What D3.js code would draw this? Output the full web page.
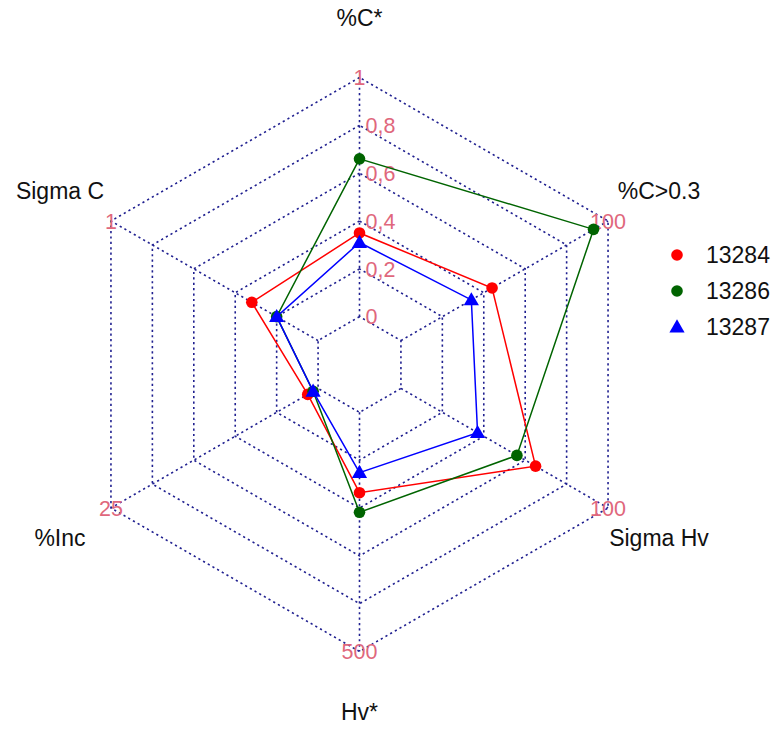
<!DOCTYPE html>
<html>
<head>
<meta charset="utf-8">
<script src="https://cdn.jsdelivr.net/npm/d3@7"></script>
<style>
  html, body { margin: 0; padding: 0; background: #fff; }
  svg { display: block; font-family: "Liberation Sans", Arial, sans-serif; }
</style>
</head>
<body>
<svg id="chart" width="777" height="729"></svg>
<script>
// Axes (counter-clockwise from top, as fmsb radarchart)
const axes = ["%C*", "Sigma C", "%Inc", "Hv*", "Sigma Hv", "%C>0.3"];
const axisMax = [1, 1, 25, 500, 100, 100];
const axisMaxLabels = ["1", "1", "25", "500", "100", "100"];
const centerTickLabels = ["0", "0,2", "0,4", "0,6", "0,8"];

// Series
const seriesNames = ["13284", "13286", "13287"];
const s13284 = [0.35, 0.32, 1.25, 168, 65, 44];
const s13286 = [0.66, 0.20, 0.60, 209, 56, 93];
const s13287 = [0.31, 0.20, 0.60, 126, 37, 34];
const seriesValues = [s13284, s13286, s13287];
const seriesColors = ["#ff0000", "#006400", "#0000ff"];
const seriesShapes = ["circle", "circle", "triangle"];

const svg = d3.select("#chart");
const cx = 359.5, cy = 364.5, R = 287;
const seg = 5;
// fmsb (centerzero = FALSE): value 0 sits on first ring, 1 on outer ring
const rScale = d3.scaleLinear().domain([0, 1]).range([R / (seg + 1), R]);
const angle = i => Math.PI / 2 + i * 2 * Math.PI / axes.length;
const px = (i, r) => cx + r * Math.cos(angle(i));
const py = (i, r) => cy - r * Math.sin(angle(i));

const gridColor = "#202090";
const labCol = "#e0677c";

// Grid rings
const gGrid = svg.append("g");
for (let k = 1; k <= seg + 1; k++) {
  const r = k * R / (seg + 1);
  const pts = axes.map((a, i) => [px(i, r), py(i, r)]);
  gGrid.append("polygon")
    .attr("points", pts.map(p => p.join(",")).join(" "))
    .attr("fill", "none")
    .attr("stroke", gridColor)
    .attr("stroke-width", 1.6)
    .attr("stroke-dasharray", "2.2,3.2");
}
// Spokes
axes.forEach((a, i) => {
  gGrid.append("line")
    .attr("x1", px(i, rScale(0))).attr("y1", py(i, rScale(0)))
    .attr("x2", px(i, rScale(1))).attr("y2", py(i, rScale(1)))
    .attr("stroke", gridColor)
    .attr("stroke-width", 1.6)
    .attr("stroke-dasharray", "2.2,3.2");
});

// Center axis labels
const tickVals = d3.range(0, seg).map(k => k / seg);
svg.append("g").selectAll("text").data(tickVals).join("text")
  .attr("x", cx + 6)
  .attr("y", (d) => cy - rScale(d))
  .attr("dy", "0.36em")
  .attr("fill", labCol)
  .attr("font-size", 21.5)
  .text((d, k) => centerTickLabels[k]);

// Max labels at vertices
svg.append("g").selectAll("text").data(axes).join("text")
  .attr("x", (d, i) => px(i, R))
  .attr("y", (d, i) => py(i, R))
  .attr("dy", "0.36em")
  .attr("text-anchor", "middle")
  .attr("fill", labCol)
  .attr("font-size", 21.5)
  .text((d, i) => axisMaxLabels[i]);

// Axis titles
svg.append("g").selectAll("text").data(axes).join("text")
  .attr("x", (d, i) => px(i, R * 1.205))
  .attr("y", (d, i) => py(i, R * 1.21))
  .attr("dy", "0.36em")
  .attr("text-anchor", "middle")
  .attr("fill", "#111")
  .attr("font-size", 23)
  .text(d => d);

// Series polygons and markers
const triSym = d3.symbol().type(d3.symbolTriangle).size(100);
seriesValues.forEach((vals, s) => {
  const pts = vals.map((v, i) => {
    const r = rScale(v / axisMax[i]);
    return [px(i, r), py(i, r)];
  });
  const g = svg.append("g");
  g.append("polygon")
    .attr("points", pts.map(p => p.join(",")).join(" "))
    .attr("fill", "none")
    .attr("stroke", seriesColors[s])
    .attr("stroke-width", 1.5);
  pts.forEach(p => {
    if (seriesShapes[s] === "circle") {
      g.append("circle").attr("cx", p[0]).attr("cy", p[1]).attr("r", 5.8)
        .attr("fill", seriesColors[s]);
    } else {
      g.append("path").attr("d", triSym)
        .attr("transform", `translate(${p[0]},${p[1] + 1})`)
        .attr("fill", seriesColors[s]);
    }
  });
});

// Legend
const leg = svg.append("g");
seriesNames.forEach((name, s) => {
  const y = 255 + s * 36;
  if (seriesShapes[s] === "circle") {
    leg.append("circle").attr("cx", 677).attr("cy", y).attr("r", 5.8).attr("fill", seriesColors[s]);
  } else {
    leg.append("path").attr("d", triSym).attr("transform", `translate(677,${y + 1})`).attr("fill", seriesColors[s]);
  }
  leg.append("text").attr("x", 706).attr("y", y).attr("dy", "0.36em")
    .attr("font-size", 23).attr("fill", "#111").text(name);
});
</script>
</body>
</html>
